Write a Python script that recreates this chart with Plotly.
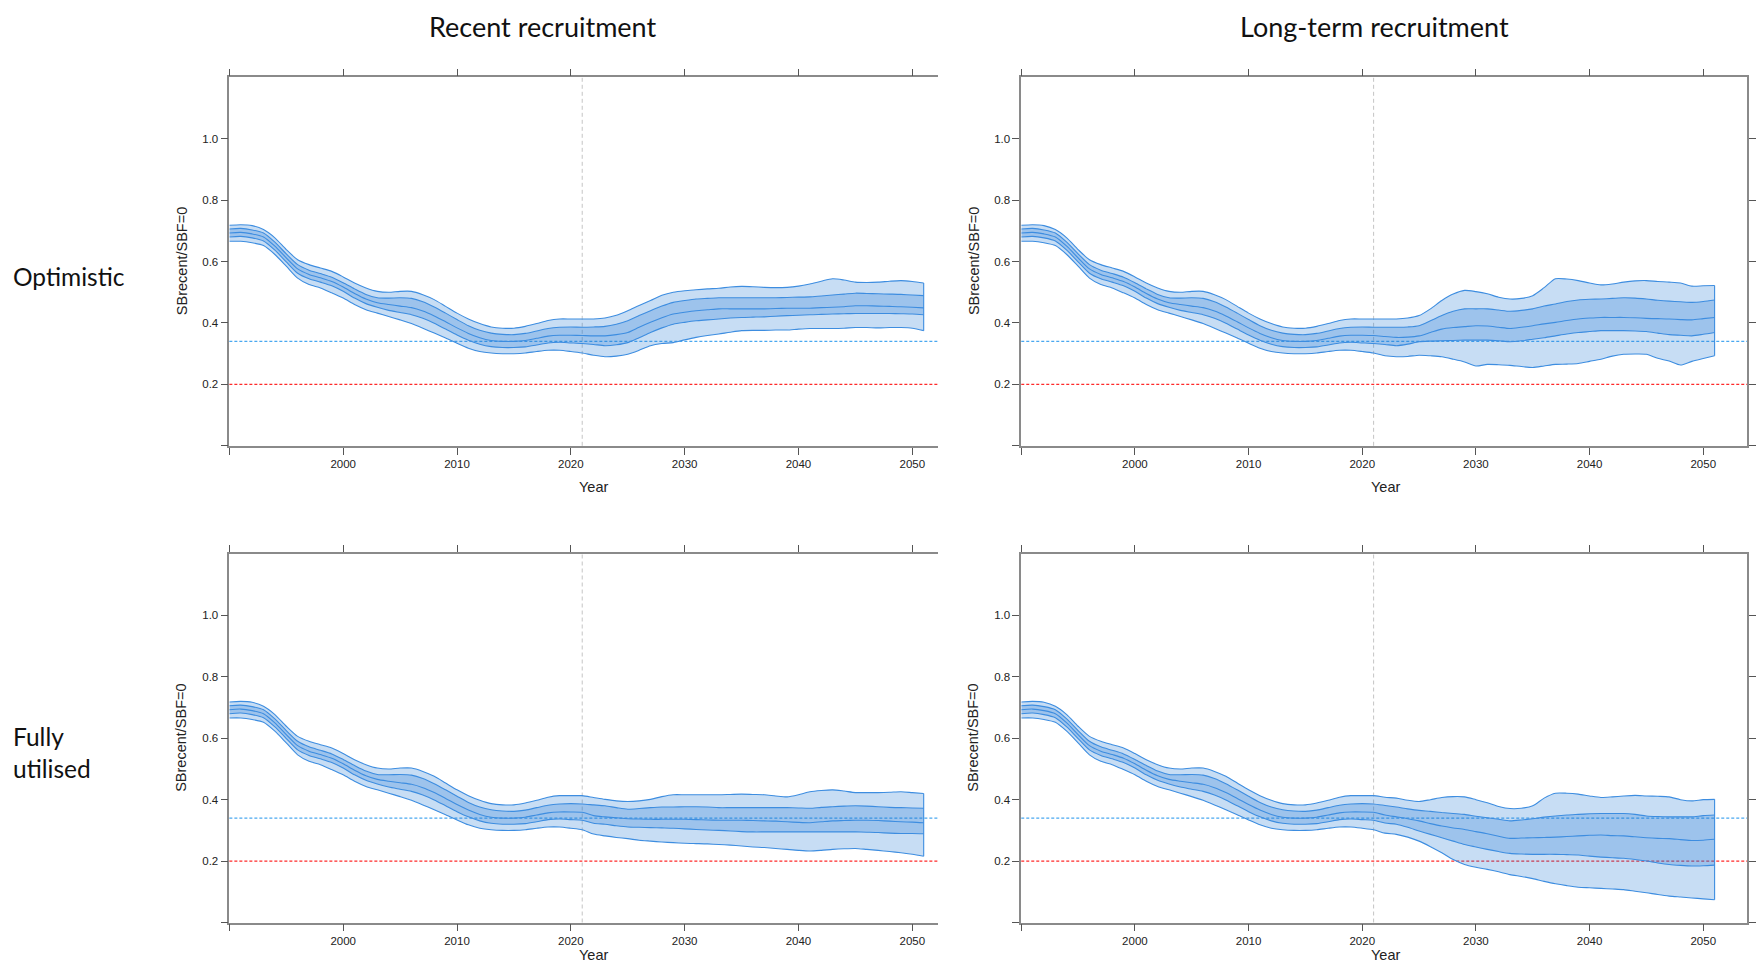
import plotly.graph_objects as go

# ---------------- data ----------------
years_hist = list(range(1990, 2022))
years_proj = list(range(2022, 2052))

# historical (common to all panels): outer upper, inner upper, median, inner lower, outer lower
hist_ou = [0.718, 0.720, 0.717, 0.704, 0.677, 0.639, 0.606, 0.590, 0.579, 0.568, 0.550, 0.530, 0.514, 0.503, 0.500, 0.503,
           0.503, 0.492, 0.476, 0.454, 0.432, 0.413, 0.398, 0.387, 0.383, 0.383, 0.389, 0.398, 0.408, 0.413, 0.413, 0.413]
hist_iu = [0.706, 0.708, 0.703, 0.693, 0.663, 0.625, 0.590, 0.572, 0.561, 0.549, 0.531, 0.511, 0.493, 0.482, 0.481, 0.482,
           0.480, 0.469, 0.452, 0.432, 0.411, 0.391, 0.376, 0.367, 0.363, 0.362, 0.366, 0.374, 0.382, 0.386, 0.387, 0.386]
hist_md = [0.693, 0.695, 0.690, 0.680, 0.650, 0.612, 0.576, 0.558, 0.547, 0.535, 0.517, 0.496, 0.478, 0.466, 0.460, 0.455,
           0.450, 0.439, 0.423, 0.404, 0.384, 0.366, 0.352, 0.343, 0.340, 0.340, 0.343, 0.350, 0.357, 0.360, 0.360, 0.359]
hist_il = [0.680, 0.682, 0.677, 0.667, 0.637, 0.599, 0.562, 0.544, 0.533, 0.521, 0.503, 0.481, 0.463, 0.451, 0.441, 0.434,
           0.427, 0.415, 0.399, 0.380, 0.361, 0.344, 0.331, 0.323, 0.320, 0.320, 0.322, 0.328, 0.335, 0.337, 0.335, 0.333]
hist_ol = [0.666, 0.666, 0.661, 0.652, 0.623, 0.585, 0.546, 0.525, 0.514, 0.498, 0.481, 0.460, 0.443, 0.432, 0.421, 0.410,
           0.398, 0.383, 0.367, 0.351, 0.334, 0.318, 0.307, 0.302, 0.300, 0.300, 0.302, 0.307, 0.311, 0.311, 0.307, 0.302]

# projections 2022-2051
# Optimistic / Recent recruitment
p1_ou = [0.413, 0.416, 0.425, 0.440, 0.457, 0.473, 0.490, 0.500, 0.505, 0.508, 0.511, 0.513, 0.517, 0.519, 0.518,
         0.516, 0.515, 0.516, 0.520, 0.527, 0.536, 0.544, 0.540, 0.533, 0.532, 0.533, 0.536, 0.538, 0.535, 0.530]
p1_iu = [0.387, 0.389, 0.396, 0.407, 0.424, 0.440, 0.455, 0.467, 0.473, 0.478, 0.480, 0.482, 0.482, 0.482, 0.482,
         0.482, 0.482, 0.483, 0.484, 0.485, 0.488, 0.491, 0.494, 0.497, 0.496, 0.495, 0.494, 0.493, 0.491, 0.489]
p1_md = [0.358, 0.358, 0.362, 0.369, 0.386, 0.402, 0.417, 0.429, 0.435, 0.440, 0.443, 0.446, 0.446, 0.446, 0.446,
         0.446, 0.447, 0.448, 0.448, 0.448, 0.450, 0.451, 0.453, 0.456, 0.456, 0.455, 0.454, 0.453, 0.451, 0.449]
p1_il = [0.330, 0.326, 0.329, 0.336, 0.352, 0.369, 0.384, 0.396, 0.402, 0.407, 0.410, 0.413, 0.416, 0.418, 0.419,
         0.420, 0.422, 0.424, 0.425, 0.427, 0.428, 0.429, 0.430, 0.431, 0.431, 0.431, 0.431, 0.430, 0.429, 0.427]
p1_ol = [0.295, 0.290, 0.292, 0.298, 0.311, 0.326, 0.333, 0.336, 0.345, 0.353, 0.359, 0.364, 0.370, 0.375, 0.376,
         0.376, 0.377, 0.377, 0.380, 0.382, 0.382, 0.382, 0.383, 0.385, 0.385, 0.384, 0.385, 0.385, 0.383, 0.375]

# Optimistic / Long-term recruitment
p2_ou = [0.413, 0.413, 0.416, 0.424, 0.446, 0.473, 0.494, 0.506, 0.502, 0.495, 0.484, 0.478, 0.480, 0.489, 0.515,
         0.544, 0.543, 0.538, 0.530, 0.524, 0.527, 0.533, 0.537, 0.538, 0.535, 0.533, 0.530, 0.520, 0.521, 0.522]
p2_iu = [0.386, 0.386, 0.387, 0.391, 0.407, 0.424, 0.438, 0.446, 0.446, 0.446, 0.442, 0.438, 0.441, 0.446, 0.455,
         0.462, 0.470, 0.475, 0.477, 0.478, 0.480, 0.482, 0.481, 0.478, 0.474, 0.471, 0.469, 0.467, 0.470, 0.475]
p2_md = [0.356, 0.353, 0.354, 0.358, 0.369, 0.380, 0.385, 0.388, 0.391, 0.390, 0.386, 0.382, 0.386, 0.391, 0.397,
         0.402, 0.408, 0.413, 0.416, 0.418, 0.418, 0.418, 0.417, 0.415, 0.414, 0.413, 0.411, 0.410, 0.414, 0.418]
p2_il = [0.330, 0.326, 0.331, 0.339, 0.341, 0.342, 0.343, 0.344, 0.344, 0.344, 0.342, 0.339, 0.342, 0.347, 0.352,
         0.358, 0.364, 0.369, 0.372, 0.375, 0.375, 0.375, 0.374, 0.372, 0.367, 0.362, 0.360, 0.358, 0.363, 0.369]
p2_ol = [0.293, 0.290, 0.291, 0.295, 0.293, 0.290, 0.282, 0.273, 0.260, 0.265, 0.264, 0.262, 0.258, 0.255, 0.260,
         0.265, 0.266, 0.268, 0.275, 0.282, 0.292, 0.298, 0.299, 0.298, 0.285, 0.276, 0.263, 0.275, 0.284, 0.293]

# Fully utilised / Recent recruitment
p3_ou = [0.407, 0.401, 0.396, 0.394, 0.396, 0.401, 0.410, 0.416, 0.416, 0.416, 0.416, 0.416, 0.417, 0.418, 0.417,
         0.416, 0.412, 0.409, 0.416, 0.426, 0.430, 0.432, 0.428, 0.423, 0.423, 0.423, 0.424, 0.426, 0.423, 0.420]
p3_iu = [0.383, 0.380, 0.374, 0.369, 0.371, 0.374, 0.376, 0.376, 0.377, 0.377, 0.376, 0.374, 0.374, 0.374, 0.374,
         0.374, 0.374, 0.374, 0.373, 0.372, 0.375, 0.377, 0.379, 0.380, 0.379, 0.377, 0.375, 0.374, 0.373, 0.372]
p3_md = [0.348, 0.344, 0.341, 0.338, 0.337, 0.336, 0.336, 0.336, 0.336, 0.335, 0.334, 0.333, 0.333, 0.333, 0.332,
         0.331, 0.330, 0.328, 0.326, 0.325, 0.328, 0.331, 0.332, 0.333, 0.333, 0.332, 0.330, 0.328, 0.327, 0.325]
p3_il = [0.323, 0.320, 0.315, 0.311, 0.310, 0.309, 0.308, 0.307, 0.305, 0.303, 0.301, 0.300, 0.298, 0.296, 0.295,
         0.295, 0.295, 0.295, 0.295, 0.295, 0.295, 0.295, 0.295, 0.295, 0.294, 0.293, 0.291, 0.290, 0.290, 0.289]
p3_ol = [0.288, 0.282, 0.277, 0.273, 0.268, 0.265, 0.262, 0.260, 0.258, 0.257, 0.256, 0.254, 0.252, 0.249, 0.246,
         0.244, 0.241, 0.238, 0.235, 0.233, 0.235, 0.238, 0.240, 0.241, 0.238, 0.235, 0.231, 0.227, 0.222, 0.216]

# Fully utilised / Long-term recruitment
p4_ou = [0.408, 0.405, 0.398, 0.394, 0.400, 0.407, 0.410, 0.409, 0.400, 0.390, 0.378, 0.371, 0.372, 0.380, 0.405,
         0.421, 0.421, 0.418, 0.412, 0.407, 0.409, 0.412, 0.414, 0.412, 0.411, 0.409, 0.400, 0.396, 0.400, 0.401]
p4_iu = [0.381, 0.376, 0.370, 0.365, 0.362, 0.358, 0.355, 0.352, 0.346, 0.341, 0.336, 0.331, 0.334, 0.338, 0.343,
         0.347, 0.350, 0.352, 0.354, 0.355, 0.355, 0.355, 0.352, 0.347, 0.345, 0.344, 0.344, 0.344, 0.348, 0.350]
p4_md = [0.350, 0.344, 0.338, 0.331, 0.322, 0.314, 0.308, 0.303, 0.296, 0.289, 0.281, 0.274, 0.275, 0.276, 0.277,
         0.278, 0.280, 0.282, 0.284, 0.285, 0.283, 0.282, 0.279, 0.276, 0.274, 0.273, 0.270, 0.267, 0.268, 0.271]
p4_il = [0.324, 0.320, 0.310, 0.298, 0.287, 0.276, 0.265, 0.254, 0.246, 0.238, 0.231, 0.225, 0.223, 0.222, 0.222,
         0.222, 0.221, 0.220, 0.216, 0.213, 0.211, 0.209, 0.205, 0.200, 0.194, 0.189, 0.186, 0.184, 0.185, 0.187]
p4_ol = [0.291, 0.287, 0.278, 0.265, 0.247, 0.227, 0.205, 0.189, 0.180, 0.173, 0.165, 0.156, 0.150, 0.143, 0.134,
         0.126, 0.120, 0.115, 0.113, 0.111, 0.109, 0.107, 0.102, 0.097, 0.091, 0.086, 0.083, 0.080, 0.077, 0.074]

col_titles = ["Recent recruitment", "Long-term recruitment"]
row_titles = ["Optimistic", "Fully<br>utilised"]
y_title = "SBrecent/SBF=0"
x_title = "Year"
target_ref = 0.34
limit_ref = 0.2
current_year = 2021
x_tick_vals = [1990, 2000, 2010, 2020, 2030, 2040, 2050]
x_tick_text = ["", "2000", "2010", "2020", "2030", "2040", "2050"]
y_tick_vals = [0.0, 0.2, 0.4, 0.6, 0.8, 1.0]
y_tick_text = ["", "0.2", "0.4", "0.6", "0.8", "1.0"]

panels_proj = [
    (p1_ou, p1_iu, p1_md, p1_il, p1_ol),
    (p2_ou, p2_iu, p2_md, p2_il, p2_ol),
    (p3_ou, p3_iu, p3_md, p3_il, p3_ol),
    (p4_ou, p4_iu, p4_md, p4_il, p4_ol),
]

# ---------------- layout geometry (page pixels) ----------------
OFF = 8  # default page body margin
W, H = 1764 - 2 * OFF, 972 - 2 * OFF
def px(x):
    return min(1.0, max(0.0, (x - OFF) / W))
def py(y):
    return min(1.0, max(0.0, 1 - (y - OFF) / H))

col_px = [(230.5, 943.3), (1026.5, 1756.0)]
row_px = [(77.3, 445.8), (554.0, 922.5)]
x_ranges = [[1990, 2052.3], [1990, 2053.85]]
year_label_y = [487, 955]

band_fill = "rgba(30,120,210,0.25)"
line_col = "#3d8de0"
axis_col = "#8a8a8a"
tick_font = dict(family="Liberation Sans, Arial, sans-serif", size=11.5, color="#222222")
label_font = dict(family="Liberation Sans, Arial, sans-serif", size=14.5, color="#222222")
col_font = dict(family="Lato, Open Sans, sans-serif", size=27, color="#111111")
row_font = dict(family="Lato, Open Sans, sans-serif", size=24.5, color="#111111")

fig = go.Figure()
years = years_hist + years_proj
shapes = []
annotations = []

for idx, proj in enumerate(panels_proj):
    r, c = divmod(idx, 2)
    n = idx + 1
    xa = "x" if n == 1 else f"x{n}"
    ya = "y" if n == 1 else f"y{n}"
    ou = hist_ou + proj[0]
    iu = hist_iu + proj[1]
    md = hist_md + proj[2]
    il = hist_il + proj[3]
    ol = hist_ol + proj[4]
    ln = dict(color=line_col, width=1.1, shape="spline", smoothing=0.7)
    fig.add_trace(go.Scatter(x=years, y=ol, mode="lines", line=ln, xaxis=xa, yaxis=ya, showlegend=False, hoverinfo="skip"))
    fig.add_trace(go.Scatter(x=years, y=ou, mode="lines", line=ln, fill="tonexty", fillcolor=band_fill,
                             xaxis=xa, yaxis=ya, showlegend=False, hoverinfo="skip"))
    fig.add_trace(go.Scatter(x=years, y=il, mode="lines", line=ln, xaxis=xa, yaxis=ya, showlegend=False, hoverinfo="skip"))
    fig.add_trace(go.Scatter(x=years, y=iu, mode="lines", line=ln, fill="tonexty", fillcolor=band_fill,
                             xaxis=xa, yaxis=ya, showlegend=False, hoverinfo="skip"))
    fig.add_trace(go.Scatter(x=years, y=md, mode="lines", line=ln, xaxis=xa, yaxis=ya, showlegend=False, hoverinfo="skip"))
    # closing edge of the bands at the last year
    fig.add_trace(go.Scatter(x=[years[-1], years[-1]], y=[ol[-1], ou[-1]], mode="lines",
                             line=dict(color=line_col, width=1.1), xaxis=xa, yaxis=ya, showlegend=False, hoverinfo="skip"))

    x0, x1 = col_px[c]
    y0, y1 = row_px[r]
    axis_common = dict(showgrid=False, zeroline=False, showline=True, linecolor=axis_col, linewidth=1.6,
                       ticks="outside", ticklen=7, tickwidth=1, tickcolor="#555555", tickfont=tick_font)
    fig.update_layout(**{
        ("xaxis" if n == 1 else f"xaxis{n}"): dict(
            domain=[px(x0), px(x1)], anchor=ya, range=x_ranges[c], mirror="ticks",
            tickmode="array", tickvals=x_tick_vals, ticktext=x_tick_text, **axis_common),
        ("yaxis" if n == 1 else f"yaxis{n}"): dict(
            domain=[py(y1), py(y0)], anchor=xa, range=[0, 1.2], mirror=("ticks" if c == 1 else False),
            tickmode="array", tickvals=y_tick_vals, ticktext=y_tick_text, **axis_common),
    })

    xd = xa + " domain"
    yd = ya + " domain"
    shapes.append(dict(type="line", xref=xd, yref=ya, x0=0, x1=1, y0=target_ref, y1=target_ref,
                       line=dict(color="#4aa8f0", width=1.2, dash="3px,2px"), layer="below"))
    shapes.append(dict(type="line", xref=xd, yref=ya, x0=0, x1=1, y0=limit_ref, y1=limit_ref,
                       line=dict(color="#ff2a2a", width=1.2, dash="3px,2px"), layer="below"))
    shapes.append(dict(type="line", xref=xa, yref=yd, x0=current_year, x1=current_year, y0=0, y1=1,
                       line=dict(color="#c4c4c4", width=1, dash="4px,3px"), layer="below"))

    # axis titles
    annotations.append(dict(text=y_title, xref="paper", yref="paper", x=px(x0 - 48), y=py((y0 + y1) / 2),
                            textangle=-90, showarrow=False, font=label_font, xanchor="center", yanchor="middle"))
    annotations.append(dict(text=x_title, xref="paper", yref="paper", x=px(x0 + 366),
                            y=py(year_label_y[r]), showarrow=False, font=label_font, xanchor="center", yanchor="middle"))

# column titles
annotations.append(dict(text=col_titles[0], xref="paper", yref="paper", x=px(545), y=py(26), showarrow=False,
                        font=col_font, xanchor="center", yanchor="middle"))
annotations.append(dict(text=col_titles[1], xref="paper", yref="paper", x=px(1381.5), y=py(26), showarrow=False,
                        font=col_font, xanchor="center", yanchor="middle"))
# row titles
annotations.append(dict(text=row_titles[0], xref="paper", yref="paper", x=px(11), y=py(276), showarrow=False,
                        font=row_font, xanchor="left", yanchor="middle", align="left"))
annotations.append(dict(text=row_titles[1], xref="paper", yref="paper", x=px(11), y=py(752), showarrow=False,
                        font=row_font, xanchor="left", yanchor="middle", align="left"))

fig.update_layout(width=W, height=H, autosize=False, margin=dict(l=0, r=0, t=0, b=0),
                  paper_bgcolor="white", plot_bgcolor="white", shapes=shapes, annotations=annotations,
                  showlegend=False)

fig.write_html("out.html")
